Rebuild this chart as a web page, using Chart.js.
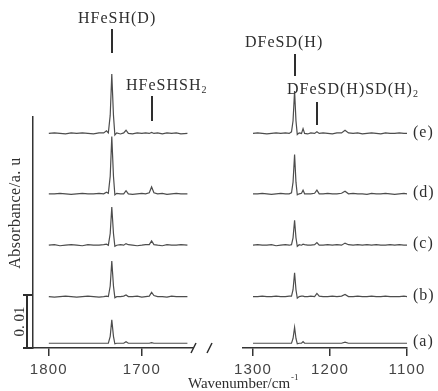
<!DOCTYPE html>
<html>
<head>
<meta charset="utf-8">
<script src="https://cdn.jsdelivr.net/npm/chart.js@4.4.1/dist/chart.umd.min.js"></script>
<style>
  html, body { margin: 0; background: #fff; }
  #wrap { position: relative; width: 438px; height: 391px; }
  #wrap canvas { position: absolute; left: 0; top: 0; }
</style>
</head>
<body>
<div id="wrap">
  <canvas id="leftChart" width="438" height="391"></canvas>
  <canvas id="rightChart" width="438" height="391"></canvas>
</div>
<script>
// spectra (a)..(e), stacked with a vertical offset each
const traceNames = ['(a)', '(b)', '(c)', '(d)', '(e)']
const traceOffsets = [0.0009, 0.0097, 0.0194, 0.0291, 0.0405]

// H region, 1800-1650 cm-1
const leftWavenumbers = [1800, 1794, 1788, 1782, 1776, 1770, 1764, 1758, 1752, 1746, 1741, 1738,
  1736, 1734, 1732.3, 1730.5, 1729, 1727, 1723, 1719.5, 1717, 1714.5, 1710, 1705,
  1700, 1696, 1692, 1689.5, 1687, 1683, 1678, 1673, 1668, 1663, 1658, 1651]
const leftA = [0, 0, 0, 0, 0, 0, 0, 0, 0, 0, 0, 0,
  0, 0.0013, 0.0044, 0.0013, -0.0001, 0, 0, 0, 0.0003, 0, 0, 0,
  0, 0, 0, 0.0001, 0, 0, 0, 0, 0, 0, 0, 0]
const leftB = [0, -0.0001, 0, 0.0001, 0, -0.0001, 0, 0.0001, 0, -0.0001, 0, 0.0001,
  0, 0.002, 0.0067, 0.002, -0.0002, 0, 0, 0.0001, 0.0003, 0, 0, 0.0001,
  -0.0001, 0, 0.0001, 0.0008, 0.0002, 0, 0, -0.0001, 0.0001, 0, 0, 0]
const leftC = [0, 0.0001, -0.0001, 0, 0.0001, 0, -0.0001, 0.0001, 0, 0, 0.0001, 0.0002,
  0, 0.0022, 0.0072, 0.0022, -0.0002, 0, 0.0001, 0, 0.0003, 0.0001, 0, -0.0001,
  0, 0.0001, 0.0001, 0.0008, 0.0001, 0, -0.0001, 0.0001, 0, 0, 0.0001, 0]
const leftD = [0, 0, 0.0001, 0, -0.0001, 0, 0.0001, 0, 0, 0.0001, 0, 0.0003,
  0.0001, 0.0033, 0.0108, 0.0033, -0.0002, 0.0001, 0, 0, 0.0006, 0, -0.0001, 0,
  0.0001, 0, 0.0002, 0.0013, 0.0002, 0, 0.0001, -0.0001, 0, 0.0001, 0, 0]
const leftE = [0, 0.0001, 0, -0.0001, 0.0001, 0, 0.0001, 0, -0.0001, 0.0001, 0.0001, 0.0005,
  0.0001, 0.0034, 0.0112, 0.0034, -0.0003, 0.0001, -0.0001, 0.0001, 0.0006, 0, -0.0001, 0.0001,
  0, 0.0001, 0, 0.0002, 0, 0.0001, -0.0001, 0.0001, 0, 0.0001, -0.0001, 0]

// D region, 1300-1100 cm-1
const rightWavenumbers = [1300, 1294, 1288, 1282, 1276, 1270, 1264, 1258, 1253, 1250, 1248,
  1246, 1244.2, 1242.5, 1240, 1237, 1235, 1233, 1229, 1225, 1220, 1217,
  1214, 1209, 1203, 1197, 1191, 1185, 1180.5, 1176, 1170, 1164, 1158,
  1152, 1146, 1140, 1134, 1128, 1122, 1116, 1110, 1104, 1100]
const rightA = [0, 0, 0, 0, 0, 0, 0, 0, 0, 0, 0.0009,
  0.003, 0.0009, -0.0001, 0, 0, 0.0003, 0, 0, 0, 0, 0,
  0, 0, 0, 0, 0, 0, 0.0002, 0, 0, 0, 0,
  0, 0, 0, 0, 0, 0, 0, 0, 0, 0]
const rightB = [0, 0, 0.0001, 0, 0, 0.0001, 0, 0, 0.0001, 0.0001, 0.0013,
  0.0045, 0.0013, -0.0003, 0, 0.0001, 0.0001, 0, 0, 0.0001, 0, 0.0006,
  0.0001, 0, 0, 0.0001, 0, 0.0001, 0.0004, 0, 0, 0.0001, 0,
  0, 0.0001, 0, 0, 0.0001, 0, 0, 0, 0.0001, 0]
const rightC = [0, 0.0001, 0, 0, 0.0001, -0.0001, 0, 0.0001, 0, 0.0001, 0.0014,
  0.0047, 0.0014, -0.0002, 0.0001, 0, 0.0002, 0.0001, 0, 0, 0.0001, 0.0005,
  0, 0, 0.0001, 0, 0.0001, 0, 0.0004, 0.0001, 0, 0.0001, 0,
  0.0001, 0, 0.0001, 0, 0, 0.0001, 0, 0.0001, 0, 0]
const rightD = [0, 0, 0.0001, 0, -0.0001, 0, 0.0001, 0, 0, 0.0002, 0.0022,
  0.0074, 0.0022, -0.0002, 0, 0.0001, 0.0007, 0, 0, 0, 0.0001, 0.0007,
  0, 0, 0.0001, 0, 0, 0.0001, 0.0005, 0, 0.0001, 0, 0,
  -0.0001, 0.0001, 0, 0, 0.0001, 0, -0.0001, 0, 0.0001, 0]
const rightE = [0, 0.0001, 0, -0.0001, 0, 0.0001, 0, 0.0001, 0, 0.0003, 0.0024,
  0.008, 0.0024, -0.0002, 0.0001, 0, 0.0009, 0, -0.0001, 0.0001, 0, 0.0003,
  0, 0.0001, 0, -0.0001, 0.0001, 0.0001, 0.0006, 0.0001, 0, 0.0001, -0.0001,
  0, 0.0001, 0, -0.0001, 0.0001, 0, 0, 0.0001, 0, 0]

const leftTicks = [1800, 1700]
const rightTicks = [1300, 1200, 1100]
const leftRange = [1645, 1817]
const rightRange = [1100, 1313]
const absRange = [0, 0.0436]
const scaleBarValue = 0.01

const leftPeakNames = ['HFeSH(D)', 'HFeSHSH₂']
const leftPeakWavenumbers = [1732.3, 1689.5]
const rightPeakNames = ['DFeSD(H)', 'DFeSD(H)SD(H)₂']
const rightPeakWavenumbers = [1246, 1217]

// where each peak label sits (text left edge, baseline, marker top/bottom)
const peakLayout = {
  'HFeSH(D)': { textX: 78, baseline: 23, top: 29, bottom: 53 },
  'HFeSHSH₂': { textX: 126, baseline: 90, top: 96, bottom: 121 },
  'DFeSD(H)': { textX: 245, baseline: 47, top: 54, bottom: 76 },
  'DFeSD(H)SD(H)₂': { textX: 287, baseline: 94, top: 102, bottom: 125 }
}

const ink = '#2e2e2e'
const serif = '"Liberation Serif", "Times New Roman", serif'

function makeDatasets(wn, series) {
  return series.map((vals, i) => ({
    label: traceNames[i],
    data: wn.map((x, j) => ({ x: x, y: traceOffsets[i] + vals[j] })),
    borderColor: '#4d4d4d',
    borderWidth: 1.2,
    pointRadius: 0,
    tension: 0,
    clip: false
  }))
}

function xScale(range, ticks) {
  return {
    type: 'linear',
    reverse: true,
    min: range[0],
    max: range[1],
    afterBuildTicks: s => { s.ticks = ticks.map(v => ({ value: v })) },
    afterFit: s => { s.height = 43 },
    grid: { display: true, drawOnChartArea: false, drawTicks: true, tickLength: 8, color: '#333', lineWidth: 1.5 },
    border: { display: true, color: '#333', width: 1.5 },
    ticks: {
      color: '#444',
      font: { family: '"Liberation Sans", Arial, sans-serif', size: 15 },
      padding: 5,
      maxRotation: 0,
      autoSkip: false,
      callback: v => String(v)
    }
  }
}

// text with an optional trailing subscript 2
function drawLabel(ctx, text, x, y, size) {
  const main = text.replace('₂', '')
  ctx.font = size + 'px ' + serif
  ctx.fillText(main, x, y)
  if (text.endsWith('₂')) {
    const w = ctx.measureText(main).width
    ctx.font = Math.round(size * 0.6) + 'px ' + serif
    ctx.fillText('2', x + w, y + 3)
  }
}

function drawPeakMarks(chart, names, wavenumbers) {
  const ctx = chart.ctx
  const x = chart.scales.x
  ctx.save()
  ctx.fillStyle = ink
  ctx.strokeStyle = ink
  ctx.lineWidth = 2
  ctx.letterSpacing = '1px'
  ctx.textAlign = 'left'
  ctx.textBaseline = 'alphabetic'
  names.forEach((name, i) => {
    const p = peakLayout[name]
    const px = Math.round(x.getPixelForValue(wavenumbers[i]))
    ctx.beginPath()
    ctx.moveTo(px, p.top)
    ctx.lineTo(px, p.bottom)
    ctx.stroke()
    drawLabel(ctx, name, p.textX, p.baseline, 16)
  })
  ctx.restore()
}

const tickSpacing = {
  id: 'tickSpacing',
  beforeDraw(chart) { chart.ctx.letterSpacing = '1.2px' }
}

const leftDecor = {
  id: 'leftDecor',
  afterDraw(chart) {
    const ctx = chart.ctx
    const y = chart.scales.y
    const area = chart.chartArea
    drawPeakMarks(chart, leftPeakNames, leftPeakWavenumbers)

    ctx.save()
    ctx.fillStyle = ink
    ctx.strokeStyle = ink
    ctx.letterSpacing = '0px'

    // 0.01 scale bar
    const y0 = y.getPixelForValue(0)
    const y1 = y.getPixelForValue(scaleBarValue)
    ctx.lineWidth = 2
    ctx.beginPath()
    ctx.moveTo(27, y0); ctx.lineTo(27, y1)
    ctx.moveTo(23, y0); ctx.lineTo(32, y0)
    ctx.moveTo(23, y1); ctx.lineTo(32, y1)
    ctx.stroke()

    ctx.font = '15px ' + serif
    ctx.textAlign = 'center'
    ctx.textBaseline = 'alphabetic'
    ctx.save()
    ctx.translate(24, (y0 + y1) / 2)
    ctx.rotate(-Math.PI / 2)
    ctx.fillText('0. 01', 0, 0)
    ctx.restore()

    // y title
    ctx.save()
    ctx.translate(20, 213)
    ctx.rotate(-Math.PI / 2)
    ctx.font = '16px ' + serif
    ctx.letterSpacing = '0.5px'
    ctx.fillText('Absorbance/a. u', 0, 0)
    ctx.restore()

    // x title
    ctx.textAlign = 'left'
    ctx.font = '15px ' + serif
    ctx.fillText('Wavenumber/cm', 188, 388)
    const w = ctx.measureText('Wavenumber/cm').width
    ctx.font = '9px ' + serif
    ctx.fillText('-1', 188 + w + 1, 380)

    // axis break marks
    ctx.lineWidth = 1.5
    ctx.beginPath()
    ctx.moveTo(area.right - 2, area.bottom + 5)
    ctx.lineTo(area.right + 3, area.bottom - 5)
    ctx.moveTo(207, area.bottom + 5)
    ctx.lineTo(212, area.bottom - 5)
    ctx.stroke()
    ctx.restore()
  }
}

const rightDecor = {
  id: 'rightDecor',
  afterDraw(chart) {
    const ctx = chart.ctx
    const y = chart.scales.y
    drawPeakMarks(chart, rightPeakNames, rightPeakWavenumbers)
    ctx.save()
    ctx.fillStyle = ink
    ctx.letterSpacing = '1px'
    ctx.textAlign = 'left'
    ctx.textBaseline = 'middle'
    ctx.font = '16px ' + serif
    traceNames.forEach((name, i) => {
      ctx.fillText(name, 413, y.getPixelForValue(traceOffsets[i]) - 1)
    })
    ctx.restore()
  }
}

function baseOptions(padding, x, yDisplay) {
  return {
    responsive: false,
    animation: false,
    events: [],
    layout: { padding: padding },
    plugins: { legend: { display: false }, tooltip: { enabled: false } },
    scales: {
      x: x,
      y: {
        type: 'linear',
        min: absRange[0],
        max: absRange[1],
        display: yDisplay,
        afterFit: s => { s.width = 33 },
        ticks: { display: false },
        grid: { display: false },
        border: { display: true, color: '#333', width: 1.5 }
      }
    }
  }
}

new Chart(document.getElementById('leftChart'), {
  type: 'line',
  data: { datasets: makeDatasets(leftWavenumbers, [leftA, leftB, leftC, leftD, leftE]) },
  options: baseOptions({ left: 0, right: 245, top: 117, bottom: 0 }, xScale(leftRange, leftTicks), true),
  plugins: [tickSpacing, leftDecor]
})

new Chart(document.getElementById('rightChart'), {
  type: 'line',
  data: { datasets: makeDatasets(rightWavenumbers, [rightA, rightB, rightC, rightD, rightE]) },
  options: baseOptions({ left: 210, right: 31, top: 117, bottom: 0 }, xScale(rightRange, rightTicks), false),
  plugins: [tickSpacing, rightDecor]
})
</script>
</body>
</html>
